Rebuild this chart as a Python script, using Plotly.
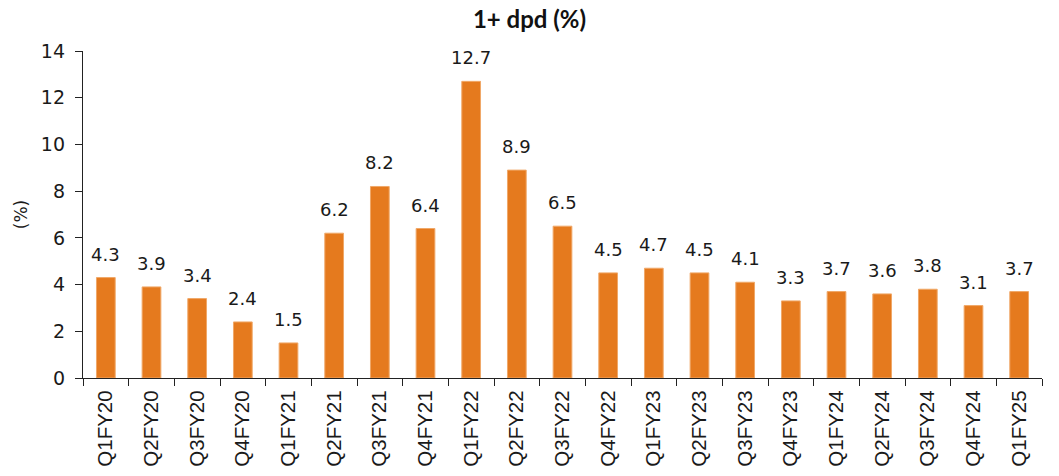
import plotly.graph_objects as go

categories = ["Q1FY20", "Q2FY20", "Q3FY20", "Q4FY20", "Q1FY21", "Q2FY21", "Q3FY21",
              "Q4FY21", "Q1FY22", "Q2FY22", "Q3FY22", "Q4FY22", "Q1FY23", "Q2FY23",
              "Q3FY23", "Q4FY23", "Q1FY24", "Q2FY24", "Q3FY24", "Q4FY24", "Q1FY25"]
values = [4.3, 3.9, 3.4, 2.4, 1.5, 6.2, 8.2, 6.4, 12.7, 8.9, 6.5, 4.5, 4.7, 4.5,
          4.1, 3.3, 3.7, 3.6, 3.8, 3.1, 3.7]

fig = go.Figure(go.Bar(
    x=categories, y=values,
    marker=dict(color="#E57A1E", line=dict(width=1, color="#F0A868")),
    width=0.41,
    cliponaxis=False,
))

for c, v in zip(categories, values):
    fig.add_annotation(x=c, y=v, text=f"{v:.1f}", showarrow=False,
                       yanchor="bottom", yshift=11,
                       font=dict(family="DejaVu Sans", size=18, color="#1a1a1a"))

fig.update_layout(
    width=1059, height=476,
    margin=dict(l=83, r=17, t=51, b=98),
    paper_bgcolor="white", plot_bgcolor="white",
    title=dict(text="<b>1+ dpd (%)</b>", x=0.5, xanchor="center", y=1 - 20 / 476, yanchor="middle",
               font=dict(family="Lato", size=24, color="#111")),
    showlegend=False,
)
fig.update_yaxes(range=[0, 14], dtick=2, showgrid=False, zeroline=False, automargin=False,
                 showline=True, linecolor="#222", linewidth=1.3,
                 ticks="outside", ticklen=7, tickcolor="#222", ticklabelstandoff=6,
                 tickfont=dict(family="DejaVu Sans", size=19, color="#1a1a1a"),
                 title=dict(text="(%)", font=dict(family="DejaVu Sans", size=17, color="#1a1a1a"), standoff=8))
fig.update_xaxes(showgrid=False, showline=True, linecolor="#222", linewidth=1.3, automargin=False,
                 ticks="outside", ticklen=7, tickcolor="#222", tickson="boundaries",
                 tickangle=-90, ticklabelstandoff=3,
                 tickfont=dict(family="Liberation Sans", size=20.5, color="#1a1a1a"))

fig.write_html("out.html")
